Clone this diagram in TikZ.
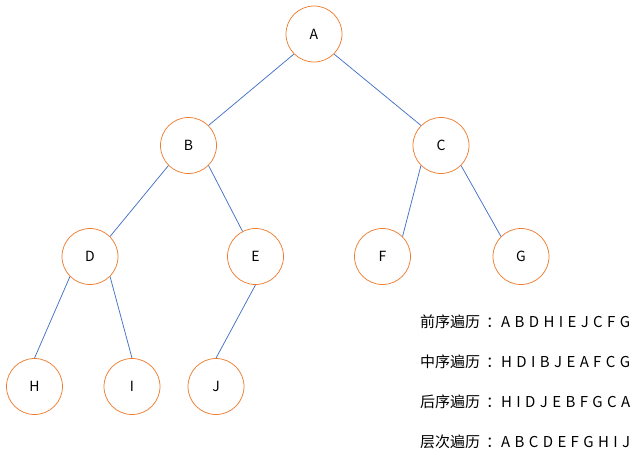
\documentclass[tikz,border=0pt]{standalone}
\usepackage{fontspec}
\setmainfont{Noto Sans CJK SC}
\newfontfamily\travfont{Noto Sans CJK SC}[WordSpace=1.3]
\newcommand{\tcolon}{\hspace{6pt}：}
\definecolor{nodeorange}{RGB}{237,125,49}
\definecolor{edgeblue}{RGB}{68,114,196}
\begin{document}
\begin{tikzpicture}[x=1pt,y=-1pt,
  treenode/.style={circle,draw=nodeorange,line width=0.75pt,minimum size=56pt,inner sep=0pt,font=\fontsize{14}{16}\selectfont},
  edge/.style={draw=edgeblue,line width=0.75pt},
  trav/.style={anchor=west,inner sep=0pt,font=\travfont\fontsize{15}{18}\selectfont}]
\useasboundingbox (0,0) rectangle (635,455);
\node[treenode] (A) at (314,34) {A};
\node[treenode] (B) at (188.5,145.5) {B};
\node[treenode] (C) at (441,145.5) {C};
\node[treenode] (D) at (90,256.5) {D};
\node[treenode] (E) at (255.5,256.5) {E};
\node[treenode] (F) at (382.5,256.5) {F};
\node[treenode] (G) at (521,256.5) {G};
\node[treenode] (H) at (34.5,386.5) {H};
\node[treenode] (I) at (132,386.5) {I};
\node[treenode] (J) at (216,386.5) {J};
\draw[edge] (A.225) -- (B.45);
\draw[edge] (A.-45) -- (C.135);
\draw[edge] (B.225) -- (D.45);
\draw[edge] (B.-45) -- (E);
\draw[edge] (C.225) -- (F.45);
\draw[edge] (C.-45) -- (G.135);
\draw[edge] (D.225) -- (H.90);
\draw[edge] (D.-45) -- (I.90);
\draw[edge] (E.-90) -- (J.90);
\node[trav] (t1) at (420,322) {前序遍历\tcolon A B D H I E J C F G};
\node[trav] (t2) at (420,362) {中序遍历\tcolon H D I B J E A F C G};
\node[trav] (t3) at (420,402) {后序遍历\tcolon H I D J E B F G C A};
\node[trav] (t4) at (420,442) {层次遍历\tcolon A B C D E F G H I J};
\end{tikzpicture}
\end{document}
